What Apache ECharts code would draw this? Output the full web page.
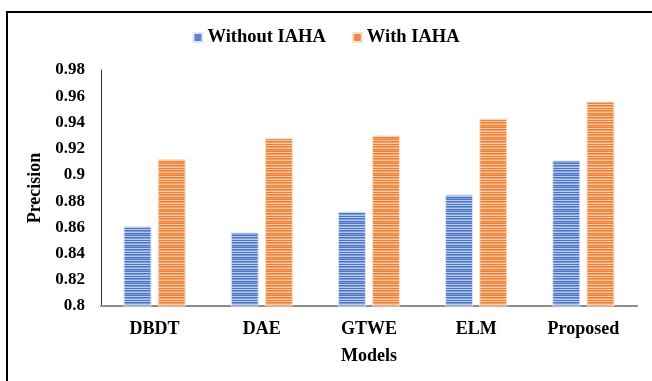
<!DOCTYPE html>
<html><head><meta charset="utf-8">
<script src="https://cdn.jsdelivr.net/npm/echarts@6/dist/echarts.min.js"></script>
<style>html,body{margin:0;padding:0;background:#fff}#c{width:652px;height:381px}</style>
</head><body><div id="c"></div>
<script>
const categories = ['DBDT', 'DAE', 'GTWE', 'ELM', 'Proposed'];
const withoutIAHA = [0.861, 0.856, 0.872, 0.885, 0.911];
const withIAHA = [0.912, 0.928, 0.930, 0.943, 0.956];
const yTicks = [0.8, 0.82, 0.84, 0.86, 0.88, 0.9, 0.92, 0.94, 0.96, 0.98];

function stripes(base, light, mid) {
  const c = document.createElement('canvas');
  c.width = 4; c.height = 12;
  const g = c.getContext('2d');
  const rows = [base, light, base, mid, light, base, mid, base, light, base, mid, light];
  rows.forEach((col, i) => { g.fillStyle = col; g.fillRect(0, i, 4, 1); });
  return { image: c, repeat: 'repeat' };
}
const bluePat = stripes('#4a74c6', '#b9c9ea', '#7f9dd8');
const orangePat = stripes('#ef7d32', '#f9c9a6', '#f3a266');

const font = '"Liberation Serif", "Times New Roman", serif';
const chart = echarts.init(document.getElementById('c'), null, {renderer: 'canvas'});
chart.setOption({
  animation: false,
  backgroundColor: '#fff',
  legend: {
    top: 23, left: 'center', itemWidth: 9, itemHeight: 9, itemGap: 26,
    icon: 'rect',
    textStyle: {fontFamily: font, fontWeight: 'bold', fontSize: 18.5, color: '#000'},
    data: [{name: 'Without IAHA', itemStyle: {color: '#5b83cf'}}, {name: 'With IAHA', itemStyle: {color: '#f08a45'}}]
  },
  grid: {left: 101, right: 15, top: 70, bottom: 75},
  xAxis: {
    type: 'category', data: categories,
    name: 'Models', nameLocation: 'middle', nameGap: 41,
    nameTextStyle: {fontFamily: font, fontWeight: 'bold', fontSize: 18, color: '#000'},
    axisLine: {lineStyle: {color: '#8c8c8c', width: 2}},
    axisTick: {show: false},
    axisLabel: {fontFamily: font, fontWeight: 'bold', fontSize: 18, color: '#000', margin: 14}
  },
  yAxis: {
    type: 'value', min: 0.8, max: 0.98, interval: 0.02,
    name: 'Precision', nameLocation: 'middle', nameGap: 52, nameRotate: 90,
    nameTextStyle: {fontFamily: font, fontWeight: 'bold', fontSize: 18, color: '#000'},
    axisLine: {show: true, lineStyle: {color: '#333', width: 1}},
    axisTick: {show: false},
    splitLine: {show: false},
    axisLabel: {fontFamily: font, fontWeight: 'bold', fontSize: 17, color: '#000', margin: 16,
      formatter: v => { const t = yTicks.find(x => Math.abs(x - v) < 1e-9); return String(t !== undefined ? t : +v.toFixed(2)); }}
  },
  series: [
    {name: 'Without IAHA', type: 'bar', data: withoutIAHA, barWidth: 28, barGap: '22%',
     itemStyle: {color: bluePat, borderColor: '#dfe7f6', borderWidth: 1}},
    {name: 'With IAHA', type: 'bar', data: withIAHA, barWidth: 28,
     itemStyle: {color: orangePat, borderColor: '#fbe0cc', borderWidth: 1}}
  ],
  graphic: [
    {type: 'polyline', shape: {points: [[7, 381], [7, 12], [652, 12]]}, style: {stroke: '#000', lineWidth: 2, fill: null}}
  ]
});
</script></body></html>
